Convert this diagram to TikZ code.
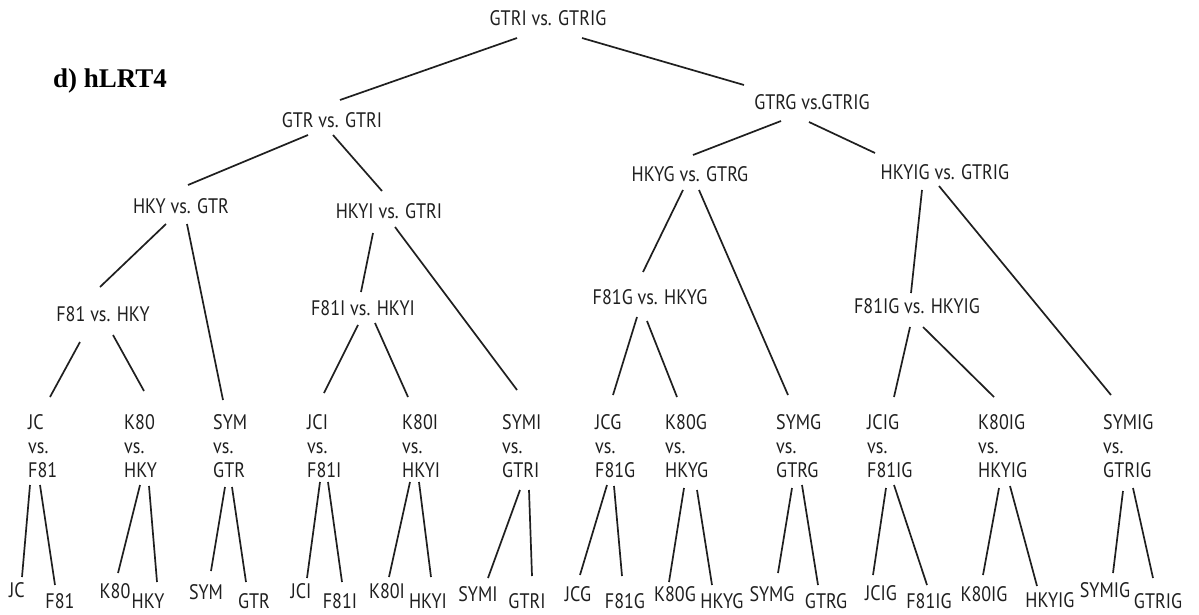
\documentclass[tikz,border=0pt]{standalone}
\usepackage{fontspec}
\setmainfont[FakeStretch=0.86]{PT Sans}
\newfontfamily\titlefont{Liberation Serif}
\usetikzlibrary{calc}
% connector between two named nodes, each end given as an offset from the node
\newcommand\lnk[4]{\draw[edge] ($(#1)+(#2)$) -- ($(#3)+(#4)$);}
\begin{document}
\begin{tikzpicture}[x=1pt,y=-1pt,
  lbl/.style={inner sep=0pt, font=\fontsize{21}{24}\selectfont, text=black!88},
  leaf/.style={lbl, align=left, anchor=north west},
  tip/.style={lbl, anchor=base},
  edge/.style={line width=1.7pt, black!88}]
\useasboundingbox[fill=white] (0,0) rectangle (1199,615);

% panel title
\node[inner sep=0pt, font=\titlefont\bfseries\fontsize{27}{30}\selectfont] (title) at (110,81) {d) hLRT4};

% internal comparisons
\node[lbl] (root) at (548,18)  {GTRI vs. GTRIG};
\node[lbl] (A)    at (332,120) {GTR vs. GTRI};
\node[lbl] (B)    at (812,102) {GTRG vs.GTRIG};
\node[lbl] (A1)   at (181,206) {HKY vs. GTR};
\node[lbl] (A2)   at (389,211) {HKYI vs. GTRI};
\node[lbl] (B1)   at (690,174) {HKYG vs. GTRG};
\node[lbl] (B2)   at (945,172) {HKYIG vs. GTRIG};
\node[lbl] (A1a)  at (103,314) {F81 vs. HKY};
\node[lbl] (A2a)  at (363,308) {F81I vs. HKYI};
\node[lbl] (B1a)  at (650,297) {F81G vs. HKYG};
\node[lbl] (B2a)  at (917,306) {F81IG vs. HKYIG};

% lowest comparisons
\node[leaf] (L1)  at (28,414)   {JC\\vs.\\F81};
\node[leaf] (L2)  at (124,414)  {K80\\vs.\\HKY};
\node[leaf] (L3)  at (213,414)  {SYM\\vs.\\GTR};
\node[leaf] (L4)  at (307,414)  {JCI\\vs.\\F81I};
\node[leaf] (L5)  at (402,414)  {K80I\\vs.\\HKYI};
\node[leaf] (L6)  at (502,414)  {SYMI\\vs.\\GTRI};
\node[leaf] (L7)  at (595,414)  {JCG\\vs.\\F81G};
\node[leaf] (L8)  at (665,414)  {K80G\\vs.\\HKYG};
\node[leaf] (L9)  at (776,414)  {SYMG\\vs.\\GTRG};
\node[leaf] (L10) at (867,414)  {JCIG\\vs.\\F81IG};
\node[leaf] (L11) at (978,414)  {K80IG\\vs.\\HKYIG};
\node[leaf] (L12) at (1103,414) {SYMIG\\vs.\\GTRIG};

% single models
\node[tip] (t1a)  at (17,597)   {JC};    \node[tip] (t1b)  at (60,608)   {F81};
\node[tip] (t2a)  at (115,598)  {K80};   \node[tip] (t2b)  at (148,608)  {HKY};
\node[tip] (t3a)  at (206,599)  {SYM};   \node[tip] (t3b)  at (254,608)  {GTR};
\node[tip] (t4a)  at (301,598)  {JCI};   \node[tip] (t4b)  at (340,608)  {F81I};
\node[tip] (t5a)  at (387,598)  {K80I};  \node[tip] (t5b)  at (428,608)  {HKYI};
\node[tip] (t6a)  at (478,601)  {SYMI};  \node[tip] (t6b)  at (527,608)  {GTRI};
\node[tip] (t7a)  at (578,601)  {JCG};   \node[tip] (t7b)  at (625,608)  {F81G};
\node[tip] (t8a)  at (675,601)  {K80G};  \node[tip] (t8b)  at (722,608)  {HKYG};
\node[tip] (t9a)  at (772,601)  {SYMG};  \node[tip] (t9b)  at (826,608)  {GTRG};
\node[tip] (t10a) at (881,600)  {JCIG};  \node[tip] (t10b) at (929,608)  {F81IG};
\node[tip] (t11a) at (984,601)  {K80IG}; \node[tip] (t11b) at (1050,607) {HKYIG};
\node[tip] (t12a) at (1105,597) {SYMIG}; \node[tip] (t12b) at (1158,608) {GTRIG};

% upper tree
\lnk{root}{-31,20}{A}{8,-20}
\lnk{root}{34,20}{B}{-68,-17}
\lnk{A}{-24,15}{A1}{7,-21}
\lnk{A}{1,15}{A2}{-7,-20}
\lnk{B}{-31,19}{B1}{3,-19}
\lnk{B}{-3,20}{B2}{-70,-19}
\lnk{A1}{-15,18}{A1a}{-3,-27}
\lnk{A1}{6,18}{L3.north west}{10,-14}
\lnk{A2}{-16,22}{A2a}{-2,-16}
\lnk{A2}{6,16}{L6.north west}{15,-24}
\lnk{B1}{-7,16}{B1a}{-7,-25}
\lnk{B1}{9,16}{L9.north west}{12,-19}
\lnk{B2}{-23,18}{B2a}{-6,-13}
\lnk{B2}{-6,14}{L12.north west}{8,-19}
\lnk{A1a}{-23,28}{L1.north west}{22,-17}
\lnk{A1a}{10,21}{L2.north west}{20,-23}
\lnk{A2a}{-5,17}{L4.north west}{17,-21}
\lnk{A2a}{12,15}{L5.north west}{6,-17}
\lnk{B1a}{-13,20}{L7.north west}{18,-19}
\lnk{B1a}{-3,24}{L8.north west}{12,-17}
\lnk{B2a}{-7,21}{L10.north west}{27,-17}
\lnk{B2a}{6,21}{L11.north west}{16,-17}

% lowest level
\lnk{L1.north west}{2,71}{t1a.base}{5,-20}     \lnk{L1.north west}{12,71}{t1b.base}{-5,-23}
\lnk{L2.north west}{16,71}{t2a.base}{3,-25}    \lnk{L2.north west}{25,72}{t2b.base}{9,-26}
\lnk{L3.north west}{12,73}{t3a.base}{5,-28}    \lnk{L3.north west}{19,73}{t3b.base}{-8,-26}
\lnk{L4.north west}{13,68}{t4a.base}{6,-20}    \lnk{L4.north west}{21,68}{t4b.base}{2,-26}
\lnk{L5.north west}{8,68}{t5a.base}{2,-21}     \lnk{L5.north west}{17,68}{t5b.base}{3,-31}
\lnk{L6.north west}{18,76}{t6a.base}{10,-23}   \lnk{L6.north west}{27,76}{t6b.base}{5,-32}
\lnk{L7.north west}{12,71}{t7a.base}{2,-26}    \lnk{L7.north west}{19,72}{t7b.base}{-3,-32}
\lnk{L8.north west}{19,74}{t8a.base}{-6,-19}   \lnk{L8.north west}{32,76}{t8b.base}{-10,-23}
\lnk{L9.north west}{16,74}{t9a.base}{6,-28}    \lnk{L9.north west}{26,71}{t9b.base}{-8,-23}
\lnk{L10.north west}{19,74}{t10a.base}{-8,-25} \lnk{L10.north west}{27,71}{t10b.base}{-2,-23}
\lnk{L11.north west}{21,74}{t11a.base}{-1,-26} \lnk{L11.north west}{32,72}{t11b.base}{-13,-21}
\lnk{L12.north west}{20,77}{t12a.base}{8,-24}  \lnk{L12.north west}{30,74}{t12b.base}{-5,-30}
\end{tikzpicture}
\end{document}
